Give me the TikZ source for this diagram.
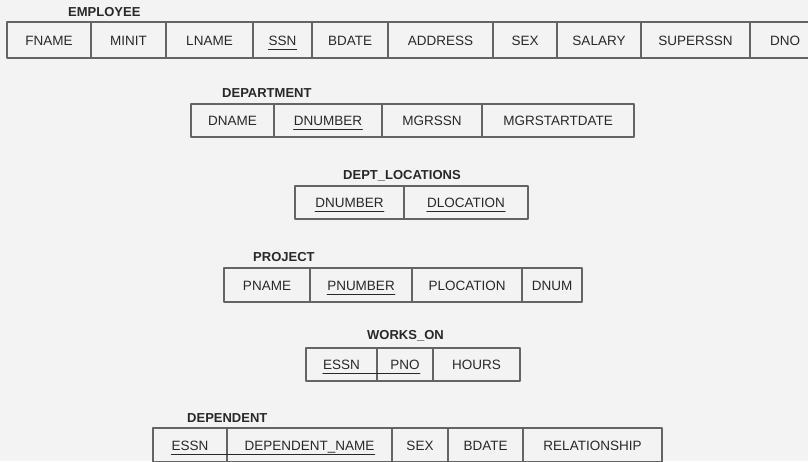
\documentclass[tikz,border=0pt]{standalone}
\usepackage{fontspec}
\setmainfont{Liberation Sans}
\usetikzlibrary{positioning}
\definecolor{bggray}{RGB}{243,243,243}
\definecolor{linegray}{RGB}{100,100,100}
\definecolor{textgray}{RGB}{40,40,40}

\begin{document}
\begin{tikzpicture}[
				x=1pt, y=-1pt,
				line cap=round,
				line join=round,
				every node/.style={font=\fontsize{13.5}{16}\selectfont, text=textgray},
				cell/.style={draw=linegray, line width=1.3pt, inner sep=0pt, outer sep=0pt,
					minimum height=33pt, text height=10pt, text depth=0pt},
				keytext/.style={inner sep=0pt, text height=10pt, text depth=0pt},
				relname/.style={font=\fontsize{13}{16}\selectfont\bfseries, anchor=west,
					inner sep=0pt, text height=9.5pt, text depth=0pt},
				keyline/.style={draw=textgray, line width=0.9pt}
				]
				% Background and page size
				\useasboundingbox[fill=bggray] (0,0) rectangle (808,461);
				
				% EMPLOYEE
				\node[relname] (emp) at (68,12) {EMPLOYEE};
				\begin{scope}[cell/.append style={minimum height=36pt}]
				\node[cell, minimum width=84pt, anchor=west] (emp-fname) at (7,40) {FNAME};
				\node[cell, minimum width=75pt, right=0pt of emp-fname] (emp-minit) {MINIT};
				\node[cell, minimum width=87pt, right=0pt of emp-minit] (emp-lname) {LNAME};
				\node[cell, minimum width=59pt, right=0pt of emp-lname] (emp-ssn) {};
				\node[cell, minimum width=76pt, right=0pt of emp-ssn] (emp-bdate) {BDATE};
				\node[cell, minimum width=105pt, right=0pt of emp-bdate] (emp-address) {ADDRESS};
				\node[cell, minimum width=64pt, right=0pt of emp-address] (emp-sex) {SEX};
				\node[cell, minimum width=84pt, right=0pt of emp-sex] (emp-salary) {SALARY};
				\node[cell, minimum width=109pt, right=0pt of emp-salary] (emp-superssn) {SUPERSSN};
				\node[cell, minimum width=70pt, right=0pt of emp-superssn] (emp-dno) {DNO};
				\end{scope}
				\node[keytext] (emp-ssn-t) at (emp-ssn) {SSN};
				\draw[keyline] ([yshift=-4pt]emp-ssn-t.south west) -- ([yshift=-4pt]emp-ssn-t.south east);
				
				% DEPARTMENT
				\node[relname] (dept) at (222,93) {DEPARTMENT};
				\node[cell, minimum width=83pt, anchor=west] (dept-dname) at (191,120.5) {DNAME};
				\node[cell, minimum width=108pt, right=0pt of dept-dname] (dept-dnumber) {};
				\node[cell, minimum width=100pt, right=0pt of dept-dnumber] (dept-mgrssn) {MGRSSN};
				\node[cell, minimum width=152pt, right=0pt of dept-mgrssn] (dept-mgrstart) {MGRSTARTDATE};
				\node[keytext] (dept-dnumber-t) at (dept-dnumber) {DNUMBER};
				\draw[keyline] ([yshift=-4pt]dept-dnumber-t.south west) -- ([yshift=-4pt]dept-dnumber-t.south east);
				
				% DEPT_LOCATIONS
				\node[relname] (dloc) at (343,175) {DEPT\_LOCATIONS};
				\node[cell, minimum width=109pt, anchor=west] (dloc-dnumber) at (295,202.5) {};
				\node[cell, minimum width=124pt, right=0pt of dloc-dnumber] (dloc-dlocation) {};
				\node[keytext] (dloc-dnumber-t) at (dloc-dnumber) {DNUMBER};
				\node[keytext] (dloc-dlocation-t) at (dloc-dlocation) {DLOCATION};
				\draw[keyline] ([yshift=-4pt]dloc-dnumber-t.south west) -- ([yshift=-4pt]dloc-dnumber-t.south east);
				\draw[keyline] ([yshift=-4pt]dloc-dlocation-t.south west) -- ([yshift=-4pt]dloc-dlocation-t.south east);
				
				% PROJECT
				\node[relname] (proj) at (253,257) {PROJECT};
				\node[cell, minimum width=86pt, minimum height=34pt, anchor=west] (proj-pname) at (224,285) {PNAME};
				\node[cell, minimum width=102pt, minimum height=34pt, right=0pt of proj-pname] (proj-pnumber) {};
				\node[cell, minimum width=110pt, minimum height=34pt, right=0pt of proj-pnumber] (proj-plocation) {PLOCATION};
				\node[cell, minimum width=60pt, minimum height=34pt, right=0pt of proj-plocation] (proj-dnum) {DNUM};
				\node[keytext] (proj-pnumber-t) at (proj-pnumber) {PNUMBER};
				\draw[keyline] ([yshift=-4pt]proj-pnumber-t.south west) -- ([yshift=-4pt]proj-pnumber-t.south east);
				
				% WORKS_ON
				\node[relname] (works) at (367,335) {WORKS\_ON};
				\node[cell, minimum width=71pt, anchor=west] (works-essn) at (306,364.5) {};
				\node[cell, minimum width=56pt, right=0pt of works-essn] (works-pno) {};
				\node[cell, minimum width=87pt, right=0pt of works-pno] (works-hours) {HOURS};
				\node[keytext] (works-essn-t) at (works-essn) {ESSN};
				\node[keytext] (works-pno-t) at (works-pno) {PNO};
				\draw[keyline] ([yshift=-4pt]works-essn-t.south west) -- ([yshift=-4pt]works-pno-t.south east);
				
				% DEPENDENT
				\node[relname] (dep) at (187,418) {DEPENDENT};
				\begin{scope}[cell/.append style={minimum height=34pt}]
				\node[cell, minimum width=74pt, anchor=west] (dep-essn) at (153,445) {};
				\node[cell, minimum width=165pt, right=0pt of dep-essn] (dep-name) {};
				\node[cell, minimum width=56pt, right=0pt of dep-name] (dep-sex) {SEX};
				\node[cell, minimum width=75pt, right=0pt of dep-sex] (dep-bdate) {BDATE};
				\node[cell, minimum width=139pt, right=0pt of dep-bdate] (dep-relation) {RELATIONSHIP};
				\end{scope}
				\node[keytext] (dep-essn-t) at (dep-essn) {ESSN};
				\node[keytext] (dep-name-t) at (dep-name) {DEPENDENT\_NAME};
				\draw[keyline] ([yshift=-4pt]dep-essn-t.south west) -- ([yshift=-4pt]dep-name-t.south east);
			\end{tikzpicture}
\end{document}
